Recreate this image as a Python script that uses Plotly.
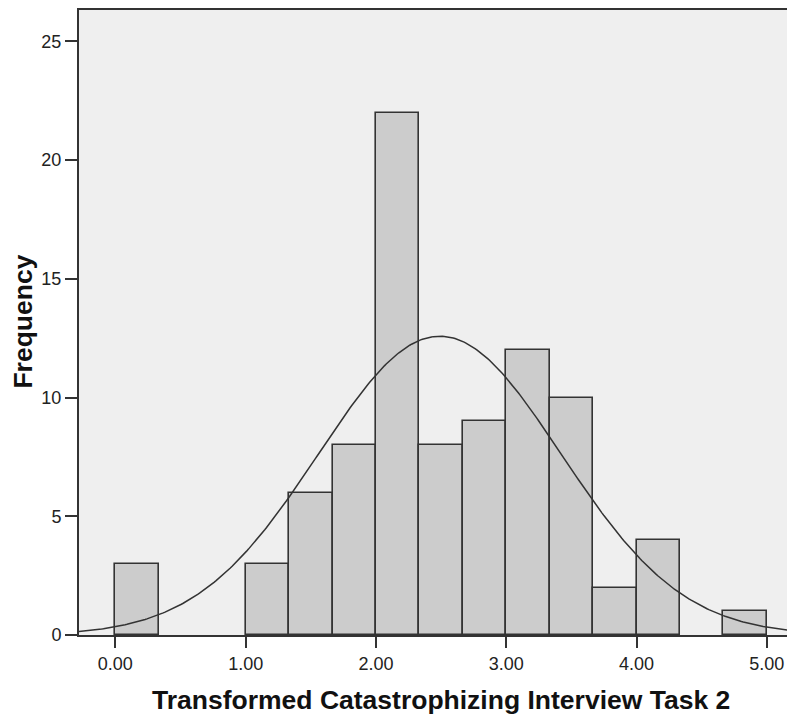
import numpy as np
import plotly.graph_objects as go

# Histogram bins (bin width 1/3) and frequencies
bin_lefts = [0.0, 1.0, 4/3, 5/3, 2.0, 7/3, 8/3, 3.0, 10/3, 11/3, 4.0, 14/3]
frequencies = [3, 3, 6, 8, 22, 8, 9, 12, 10, 2, 4, 1]
bin_width = 1/3

# Fitted normal curve parameters
curve_mean = 2.49
curve_sd = 0.93
n_total = sum(frequencies)

x_tick_vals = [0, 1, 2, 3, 4, 5]
x_tick_text = ["0.00", "1.00", "2.00", "3.00", "4.00", "5.00"]
y_tick_vals = [0, 5, 10, 15, 20, 25]

centers = [b + bin_width / 2 for b in bin_lefts]

xs = np.linspace(-0.3, 5.25, 400)
ys = n_total * bin_width / (curve_sd * np.sqrt(2 * np.pi)) * np.exp(-0.5 * ((xs - curve_mean) / curve_sd) ** 2)

fig = go.Figure()
fig.add_trace(go.Bar(
    x=centers, y=frequencies, width=bin_width,
    marker=dict(color="#cccccc", line=dict(color="#333333", width=1.6)),
    showlegend=False, hoverinfo="x+y",
))
fig.add_trace(go.Scatter(
    x=xs, y=ys, mode="lines", line=dict(color="#333333", width=1.5),
    showlegend=False, hoverinfo="skip",
))

font_family = "Liberation Sans, Arial, sans-serif"

# page body has an 8px margin; plot area spans x 79..795, y 10..635 on the page
fig.update_layout(
    width=787, height=706,
    margin=dict(l=71, r=0, t=2, b=79),
    paper_bgcolor="white",
    plot_bgcolor="#efefef",
    bargap=0,
    font=dict(family=font_family, color="#222222", size=18),
    xaxis=dict(
        range=[-0.279, 5.216],
        tickvals=x_tick_vals, ticktext=x_tick_text,
        ticks="outside", ticklen=11, tickwidth=2, tickcolor="#333333",
        showline=True, linecolor="#333333", linewidth=2, mirror=True,
        showgrid=False, zeroline=False,
        tickfont=dict(size=18, color="#222222"),
    ),
    yaxis=dict(
        range=[0, 26.32],
        tickvals=y_tick_vals,
        ticks="outside", ticklen=12, tickwidth=2, tickcolor="#333333",
        showline=True, linecolor="#333333", linewidth=2,
        showgrid=False, zeroline=False,
        tickfont=dict(size=18, color="#222222"),
    ),
    annotations=[
        dict(text="Transformed Catastrophizing Interview Task 2",
             xref="paper", yref="paper",
             x=(441.5 - 79) / 716, y=-(700 - 635.4) / 625,
             xanchor="center", yanchor="middle", showarrow=False,
             font=dict(family=font_family, size=26.5, color="#111111", weight="bold")),
        dict(text="Frequency",
             xref="paper", yref="paper",
             x=-(79 - 23) / 716, y=(635.4 - 322) / 625,
             xanchor="center", yanchor="middle", showarrow=False, textangle=-90,
             font=dict(family=font_family, size=26.5, color="#111111", weight="bold")),
    ],
)

fig.write_html("out.html")
